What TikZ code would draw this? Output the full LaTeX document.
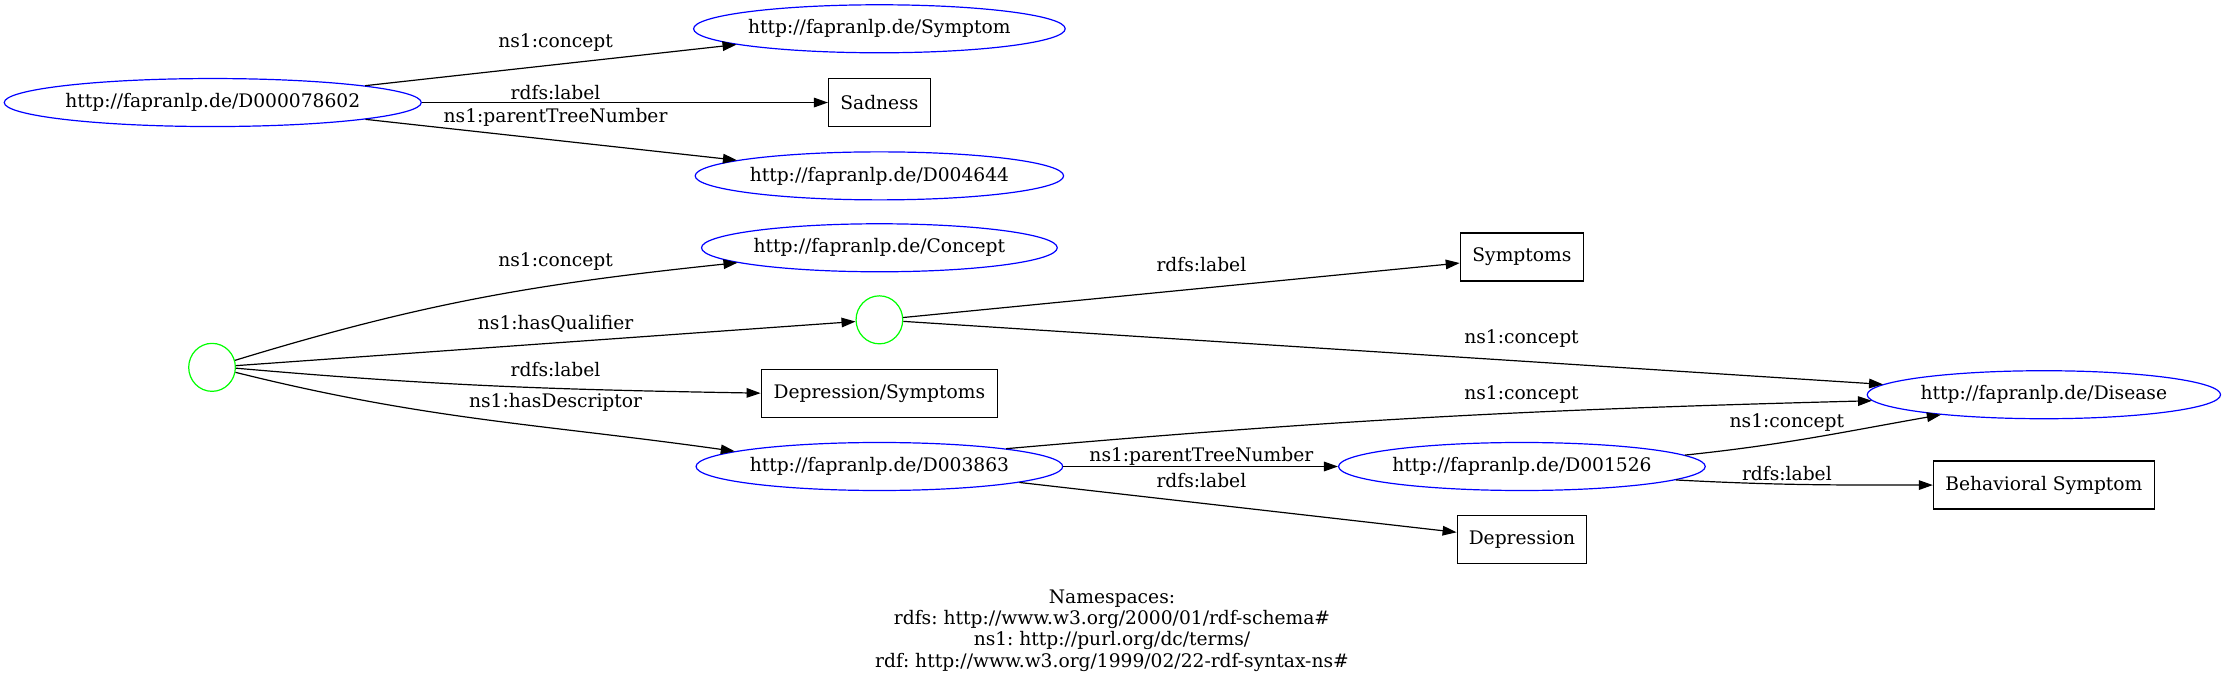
\documentclass[tikz,border=0pt]{standalone}
\usepackage{fontspec}
\setmainfont{DejaVu Serif}
\usetikzlibrary{arrows.meta,shapes.geometric}
\frenchspacing
\begin{document}
\begin{tikzpicture}[x=1.06376pt,y=1.06376pt,
  every node/.style={font=\fontsize{14}{16}\selectfont},
  uri/.style={ellipse,draw=blue,line width=0.9pt,minimum height=36pt,inner sep=0pt},
  lit/.style={rectangle,draw=black,line width=0.9pt,minimum height=36pt,inner sep=0pt},
  bnode/.style={ellipse,draw=green,line width=0.9pt,minimum width=35pt,minimum height=36pt,inner sep=0pt},
  edge/.style={draw=black,line width=0.9pt,-{Triangle[length=10.5pt,width=7.2pt]}},
  lbl/.style={inner sep=0pt,anchor=center}]
\useasboundingbox (0,0) rectangle (1568,481);
% nodes
\node[uri,minimum width=310.6pt] (d78602) at (150,408.7) {http://fapranlp.de/D000078602};
\node[uri,minimum width=278.7pt] (symptom) at (620,460.7) {http://fapranlp.de/Symptom};
\node[lit,minimum width=76.3pt] (sadness) at (620,408.7) {Sadness};
\node[uri,minimum width=276.3pt] (d4644) at (620,357) {http://fapranlp.de/D004644};
\node[uri,minimum width=266.7pt] (concept) at (620,306.3) {http://fapranlp.de/Concept};
\node[bnode] (b1) at (149.5,222) {};
\node[bnode] (b2) at (620,255.5) {};
\node[lit,minimum width=177.3pt] (depsym) at (620,203.8) {Depression/Symptoms};
\node[uri,minimum width=274.7pt] (d3863) at (620,152.1) {http://fapranlp.de/D003863};
\node[lit,minimum width=92.4pt] (symptoms) at (1073,299.8) {Symptoms};
\node[uri,minimum width=265pt] (disease) at (1441,202.7) {http://fapranlp.de/Disease};
\node[uri,minimum width=275pt] (d1526) at (1073,152.1) {http://fapranlp.de/D001526};
\node[lit,minimum width=97.1pt] (dep) at (1073,100.5) {Depression};
\node[lit,minimum width=165.7pt] (behav) at (1441,139) {Behavioral Symptom};
\node[align=center,inner sep=0pt] (ns) at (784,36.5) {Namespaces:\\rdfs: http://www.w3.org/2000/01/rdf-schema\#\\ns1: http://purl.org/dc/terms/\\rdf: http://www.w3.org/1999/02/22-rdf-syntax-ns\#};
% edges
\draw[edge] (d78602) -- (symptom);
\draw[edge] (d78602) -- (sadness);
\draw[edge] (d78602) -- (d4644);
\draw[edge] (b1.17) to[out=17,in=186] (concept.186);
\draw[edge] (b1) -- (b2);
\draw[edge] (b1.-2) to[out=-5,in=179] (depsym.west);
\draw[edge] (b1.-12) to[out=-14,in=172] (d3863.174);
\draw[edge] (b2) -- (symptoms);
\draw[edge] (b2) -- (disease);
\draw[edge] (d3863.8) to[out=5,in=181.5] (disease.182);
\draw[edge] (d3863) -- (d1526);
\draw[edge] (d3863) -- (dep);
\draw[edge] (d1526.4) to[out=6,in=190] (disease.191);
\draw[edge] (d1526.-5) to[out=-3,in=180] (behav.west);
% labels
\node[lbl] (l1) at (391.7,450.9) {ns1:concept};
\node[lbl] (l2) at (391.7,415.7) {rdfs:label};
\node[lbl] (l3) at (391.7,398) {ns1:parentTreeNumber};
\node[lbl] (l4) at (391.7,296.5) {ns1:concept};
\node[lbl] (l5) at (391.7,252.6) {ns1:hasQualifier};
\node[lbl] (l6) at (391.7,220.8) {rdfs:label};
\node[lbl] (l7) at (391.7,197.4) {ns1:hasDescriptor};
\node[lbl] (l8) at (847,294.2) {rdfs:label};
\node[lbl] (l9) at (1072.7,242.5) {ns1:concept};
\node[lbl] (l10) at (1072.7,203.2) {ns1:concept};
\node[lbl] (l11) at (847,159.5) {ns1:parentTreeNumber};
\node[lbl] (l12) at (847,142.1) {rdfs:label};
\node[lbl] (l13) at (1259.8,183.2) {ns1:concept};
\node[lbl] (l14) at (1259.8,147.3) {rdfs:label};
\end{tikzpicture}
\end{document}
